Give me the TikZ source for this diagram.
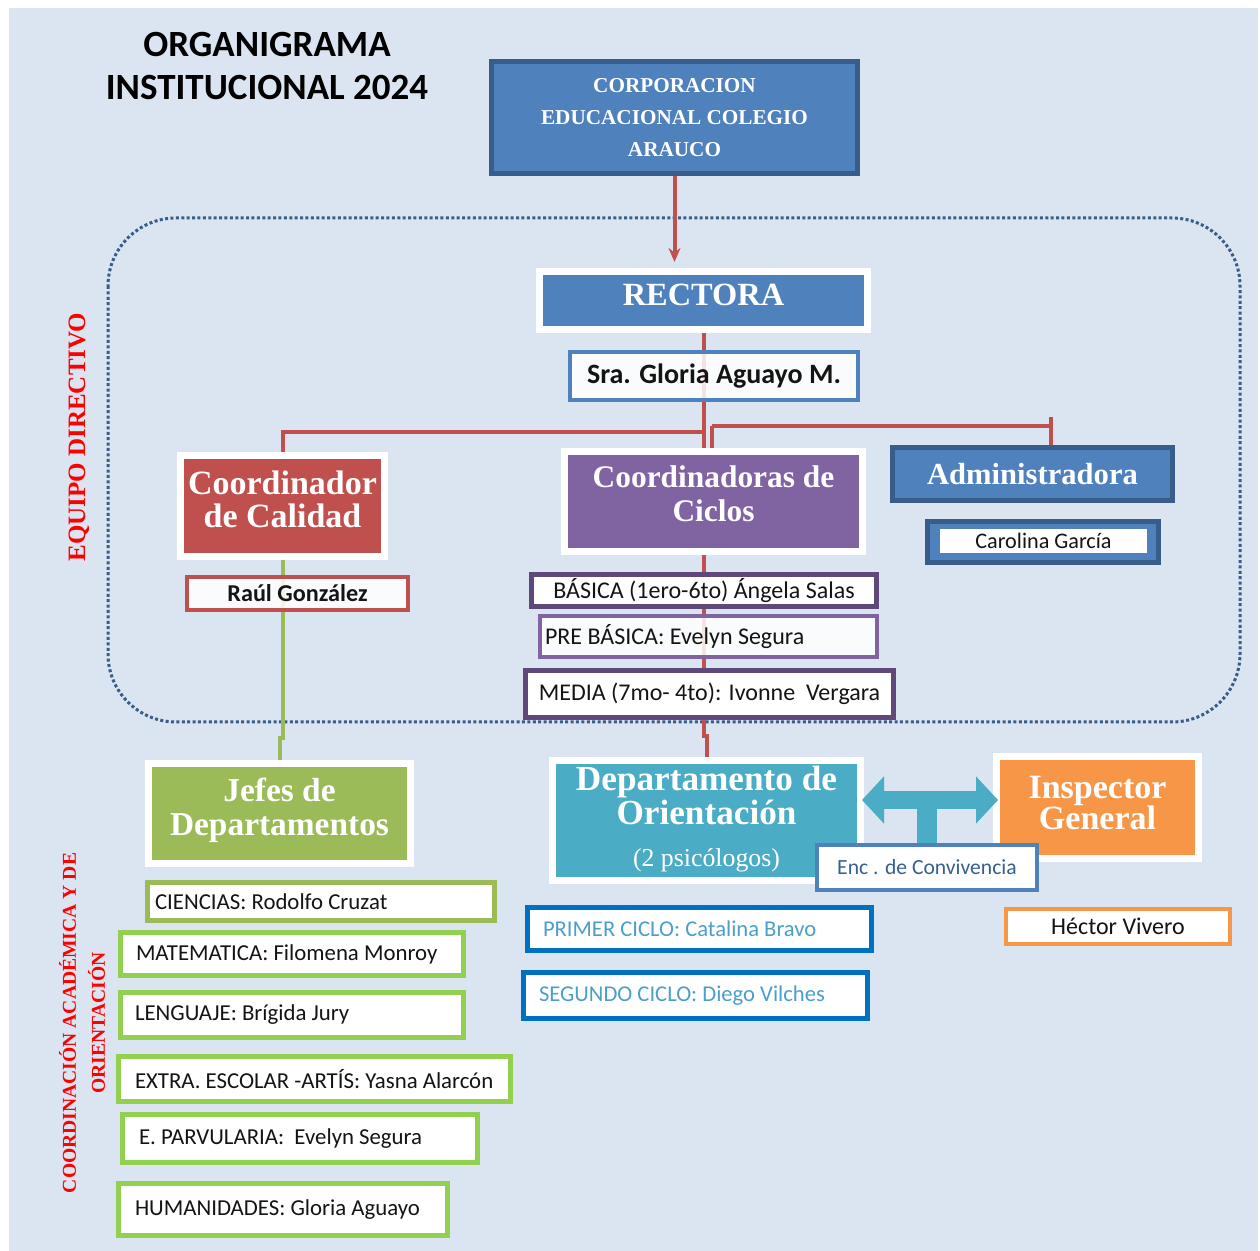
\documentclass[tikz,border=0pt]{standalone}
\usepackage{fontspec}
\setmainfont{Liberation Serif}
\newfontfamily\calfont{Carlito}
\usetikzlibrary{arrows.meta,shadows,calc}
\definecolor{bgc}{HTML}{DBE5F1}
\definecolor{dkblue}{HTML}{385D8A}
\definecolor{blu}{HTML}{4F81BD}
\definecolor{redc}{HTML}{C0504D}
\definecolor{purp}{HTML}{8064A2}
\definecolor{dkpurp}{HTML}{5F497A}
\definecolor{olivec}{HTML}{9BBB59}
\definecolor{lgreen}{HTML}{92D050}
\definecolor{tealc}{HTML}{4BACC6}
\definecolor{orng}{HTML}{F79646}
\definecolor{vivblue}{HTML}{0070C0}
\definecolor{encblue}{HTML}{366092}
\definecolor{cyctext}{HTML}{4A9FCB}
\definecolor{txtc}{HTML}{141414}
\pgfdeclarelayer{bglayer}
\pgfdeclarelayer{connlayer}
\pgfsetlayers{bglayer,connlayer,main}
\tikzset{
  framed/.style={draw=white, line width=3.5pt, text=white, align=center, inner sep=0pt,
    drop shadow={opacity=0.25, shadow xshift=1pt, shadow yshift=-1pt}},
  solidbox/.style={fill=blu, draw=dkblue, line width=2.5pt, text=white, align=center, inner sep=0pt},
  namebox/.style={fill=white, text=txtc, align=center, inner sep=0pt, font=\calfont\fontsize{12}{14}\selectfont},
  gbox/.style={namebox, draw=lgreen, line width=2.5pt, font=\calfont\fontsize{11.4}{13}\selectfont},
  cbox/.style={namebox, draw=vivblue, line width=2.5pt, text=cyctext, font=\calfont\fontsize{11.3}{13}\selectfont},
  seethru/.style={fill opacity=0.85, text opacity=1},
  conn/.style={draw=redc, line width=2pt},
  gconn/.style={draw=olivec, line width=2pt},
  vlabel/.style={rotate=90, text=red, align=center}
}
\begin{document}
\begin{tikzpicture}[x=0.5pt,y=-0.5pt]
\useasboundingbox (0,0) rectangle (1260,1251);
\begin{pgfonlayer}{bglayer}
\fill[bgc] (9,8) rectangle (1258,1251);
\draw[dkblue, line width=1.5pt, dash pattern=on 1.5pt off 1.2pt, rounded corners=34pt] (108,218) rectangle (1240,722);
\end{pgfonlayer}

% title and side labels
\node[align=center, font=\calfont\bfseries\fontsize{18.5}{21.5}\selectfont] (title) at (267,66) {ORGANIGRAMA\\INSTITUCIONAL 2024};
\node[vlabel, font=\bfseries\fontsize{12.5}{14}\selectfont] (eqdir) at (79,437) {EQUIPO DIRECTIVO};
\node[vlabel, font=\bfseries\fontsize{9.8}{14.5}\selectfont] (coordac) at (82,1023) {COORDINACIÓN ACADÉMICA Y DE\\ORIENTACIÓN};

% top
\node[solidbox, minimum width=183pt, minimum height=56pt, font=\fontsize{10.6}{16}\selectfont\bfseries] (corp) at (674.5,117.5) {CORPORACION\\EDUCACIONAL COLEGIO\\ARAUCO};
\node[framed, fill=blu, minimum width=164pt, minimum height=29pt, text depth=6pt, font=\fontsize{16.2}{18}\selectfont\bfseries] (rect) at (703.5,300.5) {RECTORA};
\node[namebox, seethru, draw=blu, line width=2pt, minimum width=144pt, minimum height=24pt, font=\calfont\bfseries\fontsize{14}{16}\selectfont] (sra) at (714,376) {Sra. Gloria Aguayo M.};

% second level
\node[framed, fill=redc, minimum width=102pt, minimum height=50.5pt, text depth=6.5pt, font=\fontsize{17}{16.5}\selectfont\bfseries] (coordcal) at (282.5,506) {Coordinador\\de Calidad};
\node[namebox, seethru, draw=redc, line width=2pt, minimum width=110.5pt, minimum height=16.5pt, font=\calfont\bfseries\fontsize{12.1}{14}\selectfont] (raul) at (297.5,593.5) {Raúl González};

\node[framed, fill=purp, minimum width=149pt, minimum height=50pt, text depth=7.5pt, font=\fontsize{15.7}{17}\selectfont\bfseries] (coordcic) at (713.5,501.5) {Coordinadoras de\\Ciclos};
\node[namebox, draw=dkpurp, line width=2.5pt, minimum width=172.5pt, minimum height=16pt] (basica) at (704,590.5) {BÁSICA (1ero-6to) Ángela Salas};
\node[namebox, seethru, draw=purp, line width=2pt, minimum width=168.5pt, minimum height=20.5pt, inner xsep=2.5pt] (prebas) at (708.5,636.5) {\makebox[163.5pt][l]{PRE BÁSICA: Evelyn Segura}};
\node[namebox, draw=dkpurp, line width=2.5pt, minimum width=184pt, minimum height=23.5pt] (media) at (709.5,694) {MEDIA (7mo- 4to): Ivonne~ Vergara};

\node[solidbox, minimum width=140pt, minimum height=26.5pt, font=\fontsize{15.3}{17}\selectfont\bfseries] (admin) at (1032.5,474) {Administradora};
\node[solidbox, minimum width=115.5pt, minimum height=20.5pt] (carolbox) at (1043,542) {};
\node[namebox, minimum width=103.5pt, minimum height=12pt, font=\calfont\fontsize{11.1}{12}\selectfont] (carol) at (1043.5,541) {Carolina García};

% third level
\node[framed, fill=olivec, minimum width=131pt, minimum height=50pt, text depth=6.7pt, font=\fontsize{16.7}{17}\selectfont\bfseries] (jefes) at (279.5,813.5) {Jefes de\\Departamentos};
\node[gbox, draw=olivec, minimum width=173.5pt, minimum height=19pt, inner xsep=3.75pt] (cien) at (321,901.5) {\makebox[166pt][l]{CIENCIAS: Rodolfo Cruzat}};
\node[gbox, minimum width=171.5pt, minimum height=21.5pt, inner xsep=7.75pt] (mate) at (292,954) {\makebox[156pt][l]{MATEMATICA: Filomena Monroy}};
\node[gbox, minimum width=171.5pt, minimum height=22.5pt, inner xsep=7.25pt] (leng) at (292,1015) {\makebox[157pt][l]{LENGUAJE: Brígida Jury}};
\node[gbox, minimum width=196pt, minimum height=22.5pt, inner xsep=8.25pt] (extra) at (314.5,1079) {\makebox[179.5pt][l]{EXTRA. ESCOLAR -ARTÍS: Yasna Alarcón}};
\node[gbox, minimum width=177.5pt, minimum height=24pt, inner xsep=8.25pt] (parv) at (300,1138.5) {\makebox[161pt][l]{E. PARVULARIA:~ Evelyn Segura}};
\node[gbox, minimum width=164.5pt, minimum height=26pt, inner xsep=8.25pt] (hum) at (283,1209.5) {\makebox[148pt][l]{HUMANIDADES: Gloria Aguayo}};

\node[framed, fill=tealc, minimum width=154pt, minimum height=60pt, text depth=4.5pt, font=\fontsize{17.6}{17}\selectfont\bfseries] (dept) at (706.5,820.5) {Departamento de\\Orientación\\[4pt]{\normalfont\fontsize{12.9}{14}\selectfont(2 psicólogos)}};
\node[framed, fill=orng, minimum width=101pt, minimum height=51pt, text depth=5pt, font=\fontsize{17}{15.5}\selectfont\bfseries] (insp) at (1097.5,807.5) {Inspector\\General};

% double arrow between Orientación and Inspector (drawn over their frames)
\draw[tealc, line width=9pt, {Triangle[length=11pt,width=23pt]}-{Triangle[length=11pt,width=23pt]}] ([xshift=-1pt,yshift=10.25pt]dept.east) -- ([xshift=2.5pt,yshift=3.75pt]insp.west);

\node[namebox, draw=blu, line width=2pt, minimum width=110pt, minimum height=22.5pt, text=encblue, font=\calfont\fontsize{10.8}{12}\selectfont] (enc) at (927,867.5) {Enc . de Convivencia};

\node[cbox, minimum width=172pt, minimum height=21.5pt, inner xsep=7.75pt] (primer) at (699.5,929) {\makebox[156.5pt][l]{PRIMER CICLO: Catalina Bravo}};
\node[cbox, minimum width=172pt, minimum height=23pt, inner xsep=7.75pt] (segundo) at (695.5,995.5) {\makebox[156.5pt][l]{SEGUNDO CICLO: Diego Vilches}};
\node[namebox, draw=orng, line width=2pt, minimum width=112pt, minimum height=17.5pt] (hector) at (1118,926.5) {Héctor Vivero};

% connectors
\coordinate (j1) at (704,432);
\coordinate (j2) at (712,426);
\coordinate (j3) at (704,736);
\coordinate (j4) at (282.5,738);
\coordinate (tstem) at (927,800);
\begin{pgfonlayer}{connlayer}
\draw[conn, shorten >=3pt, -{Stealth[length=7pt,width=6pt]}] (corp.south) -- (corp.south |- rect.north);
\draw[conn] (rect.south) -- (rect.south |- coordcic.north);
\draw[conn] (j1) -| (coordcal.north);
\draw[conn] (j2) -| ([xshift=9pt]admin.north);
\draw[conn] ([xshift=9pt]admin.north) -- ++(0,-28);
\draw[conn] (j2) -- (j2 |- coordcic.north);
\draw[conn] (coordcic.south -| j3) -- (j3) -| (dept.north);
\draw[gconn] (coordcal.south) -- (j4) -| (jefes.north);
\draw[tealc, line width=10pt] (tstem) -- (enc.north);
\end{pgfonlayer}
\end{tikzpicture}
\end{document}
